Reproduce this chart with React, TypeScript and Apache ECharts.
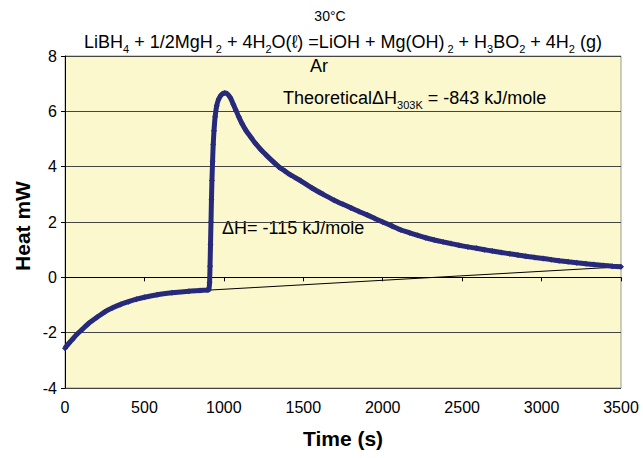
import React, { useEffect, useRef } from "react";
import * as echarts from "echarts";

const timeS = [0, 25, 50, 75, 105, 150, 200, 253, 300, 350, 400, 450, 500, 580, 673, 780, 850, 894, 905,
  910, 913, 916, 919, 922, 925, 929, 933, 938, 945, 955, 968, 985, 1005, 1020, 1040, 1060, 1075, 1094,
  1115, 1140, 1170, 1199, 1235, 1270, 1310, 1347, 1385, 1420, 1484, 1557, 1625, 1694, 1750, 1800, 1850,
  1904, 1950, 2000, 2060, 2115, 2170, 2220, 2270, 2325, 2380, 2430, 2480, 2536, 2590, 2640, 2690, 2746,
  2800, 2850, 2900, 2957, 3010, 3060, 3110, 3167, 3220, 3280, 3330, 3390, 3445, 3500];
const heatMW = [-2.56, -2.38, -2.22, -2.06, -1.9, -1.66, -1.45, -1.24, -1.1, -0.98, -0.88, -0.79, -0.72,
  -0.63, -0.56, -0.5, -0.48, -0.46, -0.45,
  -0.2, 0.4, 1.2, 2.0, 2.8, 3.5, 4.2, 4.8, 5.3, 5.8, 6.2, 6.45, 6.6, 6.66, 6.64, 6.5, 6.25, 6.05, 5.8,
  5.55, 5.3, 5.06, 4.84, 4.6, 4.4, 4.18, 3.99, 3.84, 3.7, 3.49, 3.22, 3.0, 2.79, 2.64, 2.51, 2.38,
  2.25, 2.13, 2.0, 1.85, 1.71, 1.61, 1.52, 1.43, 1.35, 1.28, 1.22, 1.16, 1.1, 1.05, 1.0, 0.95, 0.9,
  0.85, 0.81, 0.76, 0.72, 0.68, 0.64, 0.6, 0.56, 0.53, 0.49, 0.46, 0.43, 0.4, 0.38];
const baselineT = [911, 3500];
const baselineV = [-0.46, 0.38];
const xTicks = { min: 0, max: 3500, interval: 500 };
const yTicks = { min: -4, max: 8, interval: 2 };

const FONT = "'Liberation Sans', Arial, sans-serif";

export default function App() {
  const ref = useRef<HTMLDivElement>(null);
  useEffect(() => {
    if (!ref.current) return;
    const chart = echarts.init(ref.current, null, { renderer: "svg" });
    const subStyle = { fontSize: 11, fontFamily: FONT, color: "#000", verticalAlign: "bottom", lineHeight: 12 };
    chart.setOption({
      animation: false,
      backgroundColor: "#ffffff",
      grid: { left: 65, right: 22, top: 56, bottom: 70, show: true, backgroundColor: "#FBF8CD", borderColor: "#9a9a9a", borderWidth: 1 },
      xAxis: {
        type: "value",
        min: xTicks.min, max: xTicks.max, interval: xTicks.interval,
        axisLine: { show: true, lineStyle: { color: "#000", width: 1 } },
        axisTick: { show: true, length: 4, lineStyle: { color: "#000" } },
        axisLabel: { color: "#000", fontSize: 16, fontFamily: FONT, margin: 11, formatter: (v: number) => String(v) },
        splitLine: { show: false },
      },
      yAxis: {
        type: "value",
        min: yTicks.min, max: yTicks.max, interval: yTicks.interval,
        axisLine: { show: true, lineStyle: { color: "#000", width: 1 } },
        axisTick: { show: true, length: 4, lineStyle: { color: "#000" } },
        axisLabel: { color: "#000", fontSize: 16, fontFamily: FONT, margin: 8 },
        splitLine: { show: true, lineStyle: { color: "#444", width: 1 } },
      },
      series: [
        {
          type: "line",
          data: baselineT.map((t, i) => [t, baselineV[i]]),
          symbol: "none",
          lineStyle: { color: "#000", width: 1 },
          z: 2,
        },
        {
          type: "line",
          data: timeS.map((t, i) => [t, heatMW[i]]),
          symbol: "diamond",
          symbolSize: 6,
          smooth: 0.2,
          itemStyle: { color: "#27297A" },
          lineStyle: { color: "#27297A", width: 5 },
          z: 3,
        },
      ],
      graphic: [
        {
          type: "text", x: 330, y: 16,
          style: { text: "30°C", font: `14px ${FONT}`, fill: "#000", textAlign: "center", textVerticalAlign: "middle" },
        },
        {
          type: "text", x: 343, y: 42,
          style: {
            text: "LiBH{s|4} + 1/2MgH{s| 2} + 4H{s|2}O(ℓ) =LiOH + Mg(OH){s| 2} + H{s|3}BO{s|2} + 4H{s|2} (g)",
            fontSize: 18, fontFamily: FONT, fill: "#000", lineHeight: 24,
            textAlign: "center", textVerticalAlign: "middle",
            rich: { s: subStyle },
          },
        },
        {
          type: "text", x: 319, y: 66,
          style: { text: "Ar", font: `18px ${FONT}`, fill: "#000", textAlign: "center", textVerticalAlign: "middle" },
        },
        {
          type: "text", x: 283, y: 98,
          style: {
            text: "TheoreticalΔH{s|303K} = -843 kJ/mole",
            fontSize: 18, fontFamily: FONT, fill: "#000", lineHeight: 24,
            textAlign: "left", textVerticalAlign: "middle",
            rich: { s: { ...subStyle, fontSize: 11 } },
          },
        },
        {
          type: "text", x: 222, y: 228,
          style: { text: "ΔH= -115 kJ/mole", font: `18px ${FONT}`, fill: "#000", textAlign: "left", textVerticalAlign: "middle" },
        },
        {
          type: "text", x: 343, y: 438,
          style: { text: "Time (s)", font: `bold 21px ${FONT}`, fill: "#000", textAlign: "center", textVerticalAlign: "middle" },
        },
        {
          type: "text", x: 22, y: 226, rotation: Math.PI / 2,
          style: { text: "Heat mW", font: `bold 21px ${FONT}`, fill: "#000", textAlign: "center", textVerticalAlign: "middle" },
        },
      ],
    });
    return () => chart.dispose();
  }, []);
  return <div ref={ref} style={{ position: "fixed", left: 0, top: 0, width: 643, height: 458 }} />;
}
